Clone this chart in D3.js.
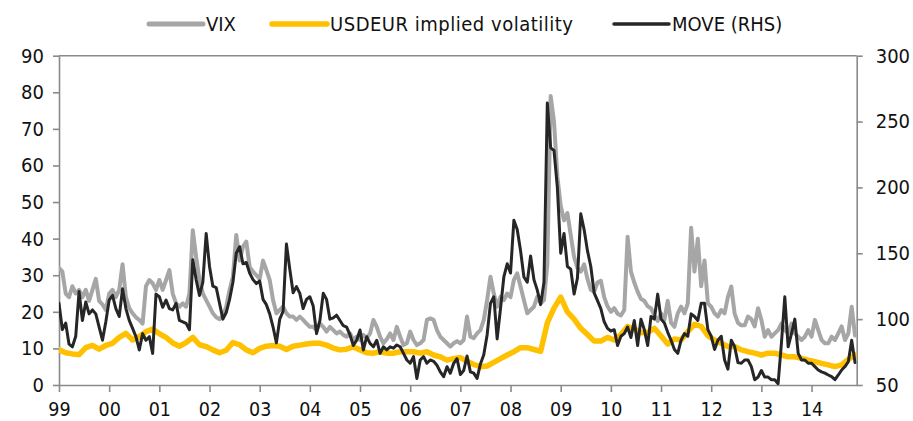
<!DOCTYPE html>
<html><head><meta charset="utf-8">
<script src="https://cdn.jsdelivr.net/npm/d3@7"></script>
<style>
body{margin:0;background:#fff}
svg{display:block}
text{font-family:"DejaVu Sans Condensed","DejaVu Sans",sans-serif;font-stretch:condensed;}
</style>
</head><body>
<svg id="c" width="913" height="421"></svg>
<script>
// ---- data ----
const startYear = 1999;
const endYear = 2014.9;
const stepsPerYear = 15;          // VIX & MOVE sampling (every ~3.5 weeks)
const fxStepsPerYear = 7.5;       // USDEUR sampling
const yearTicks = [1999,2000,2001,2002,2003,2004,2005,2006,2007,2008,2009,2010,2011,2012,2013,2014];
const yearLabels = ["99","00","01","02","03","04","05","06","07","08","09","10","11","12","13","14"];
const leftTicks = [0,10,20,30,40,50,60,70,80,90];
const rightTicks = [50,100,150,200,250,300];
const seriesNames = ["VIX","USDEUR implied volatility","MOVE (RHS)"];

const vix = [
32,31,25,24,27,25,26,24,26,23,
26,29,23,22,20.5,25,26,24,26,33,
24,21,19.6,18.5,17.8,16.8,27,28.7,27.8,26,
28.7,26,28.7,31.4,25,22.3,21.4,22.3,21.4,25,
42.3,35,28.7,25,23.2,21.4,19.6,18.5,18,19,
21.4,26,29.6,41,34,37.8,39.2,32.3,31,30,
29,34,31.4,28.7,23.2,19.6,20.5,21.4,19.6,18.7,
18.7,17.8,18.7,17.8,16.8,15.9,15.9,15,16.8,15.9,
14.6,15.9,15,14.1,14.6,13.7,13.2,14.1,12.3,13.2,
12.3,13.7,12.8,14.1,17.8,15.9,13.2,11.4,12.5,14.1,
12.3,15.9,13.2,10.9,11.4,14.6,12.3,10.9,11.4,12.3,
17.8,18.2,17.8,15,13.2,12.3,11.4,10.5,11.4,12,
11.4,12.3,18.7,13.2,12.8,14.1,15,17.8,23.2,29.6,
25,21.4,24.1,23.2,25,24,28.7,30.5,26.9,23.2,
19.6,20.5,21.4,24.1,22.3,23.2,33,79,72,57,
49,45,47,41,35,32,31,33,29,26,
25.5,28,28.5,24,21.5,20,21,19.5,19,20.5,
40.5,31,28,25.5,23.5,23,21.5,21,19,17.5,
19.6,17.8,23,17,15.9,19.6,21.4,19.6,22.3,43,
31,40,27,34,22.3,21.4,19.6,18.7,20.5,19.6,
24.1,26.9,19.5,17,16.3,16.3,18.7,18,16,21,
17.8,13.2,15,13.2,14.1,15,16.8,15,14.1,16.8,
14.1,13.2,12.3,13.2,15,13.2,17.8,15,12.3,11.4,
11.4,13.2,12.3,14.1,16,12.3,14.1,21.4,13.5
];

const move = [
112,92,97,81,79,87,121,99,113,104,
107,104,94,84,98,114.5,118,108,102,123,
108,99,93,86.7,76.6,89,84,86.7,74,119,
117,109,114.5,108,107,112,99,98,96.8,92,
145,130,118,128,165,140,125,124,112,100,
105,115,128,150,155,142,143,135,130,127,
129,115,111,104,94,82,100,106,157,138,
120,124.7,119.6,108,115,117,110,89,99,119.6,
115,100,101,103,99,95,94,88,80,84,
91.8,76.6,86.7,81.6,79,84,74,79,76.6,79,
78,80.4,79,74,69,66.5,71.5,55,69,71.5,
66.5,69,68,65,60,56.3,63.9,58.9,66.5,70,
58,61,72,60,59,55,66,73,88,112,
117,85,108,132,142,135,175,168,152,132,
128,148,130,122,111,128,264,230,228,200,
150,165,140,138,119,131,180,168,152,140,
120,114,108,98,93,91,92,80,87,89,
94,86,99,80,100,92,80,102,100,119,
100,97,90,84,77,74,84,89,87,104,
102,99,112,112,92,87,77,84,87,69,
62,84,79,67,66.5,69,69,64,54,56,
61,56,56,54,54,51,82,117,79,89,
100,74,69,69,66.5,66.5,64,61.4,60,59,
57.6,56.3,54,57.6,61.4,64,67.7,84,67
];

const usdeur = [
9.6,8.8,8.5,8.3,10.2,10.8,9.8,10.8,11.4,13,
14.1,12.3,13.2,14.6,15.3,14,13,11.5,10.6,11.6,
13,11,10.5,9.6,8.8,9.5,11.6,11,9.6,8.8,
10,10.6,10.8,10.6,9.7,10.6,10.9,11.2,11.4,11.4,
10.9,10.1,9.6,9.8,10.4,9.6,8.8,8.7,9.1,8.7,
8.7,9.1,9.1,9.1,8.7,9.1,8.2,7.7,6.8,7.2,
7.5,6.5,5.6,5,5.2,6.2,7.2,8.2,9.1,10.2,
10.2,9.7,9.2,17,21,24,20,18,15.5,13.8,
12,12,13,12.3,13.8,16,15.3,14.3,14.4,15.5,
13.4,11.2,12.6,12.3,14.6,16.6,16,13.5,12.3,11.4,
10.5,10.5,9.6,9.1,8.7,8.2,8.7,8.7,8.2,7.7,
7.7,7.3,6.8,6.4,5.9,5.5,5,5.5,7,8.2
];

// ---- drawing ----
const W = 913, H = 421;
const L = 59, R = 856.7, T = 55.7, B = 385;
const axisColor = "#8a8a8a";
const fontFam = '"DejaVu Sans Condensed","DejaVu Sans",sans-serif';
const colors = {vix:"#a6a6a6", fx:"#ffc000", move:"#262626"};

const svg = d3.select("#c");
svg.append("rect").attr("width",W).attr("height",H).attr("fill","#fff");

const x = d3.scaleLinear().domain([startYear, endYear]).range([L, R]);
const yL = d3.scaleLinear().domain([0, 90]).range([B, T]);
const yR = d3.scaleLinear().domain([50, 300]).range([B, T]);

function styleAxis(g){
  g.select(".domain").attr("stroke", axisColor).attr("stroke-width", 1.6);
  g.selectAll(".tick line").attr("stroke", axisColor).attr("stroke-width", 1.6);
  g.selectAll(".tick text").attr("fill", "#111").attr("font-size", 20)
    .attr("font-family", fontFam).style("font-stretch","condensed");
}

// top border
svg.append("line").attr("x1", L).attr("x2", R).attr("y1", T).attr("y2", T)
  .attr("stroke", axisColor).attr("stroke-width", 1.6);

const gx = svg.append("g").attr("transform", `translate(0,${B})`)
  .call(d3.axisBottom(x).tickValues(yearTicks).tickFormat((d,i)=>yearLabels[i])
    .tickSize(7).tickSizeOuter(0).tickPadding(10));
styleAxis(gx);
gx.selectAll(".tick text").attr("font-size", 19.5);

const gl = svg.append("g").attr("transform", `translate(${L},0)`)
  .call(d3.axisLeft(yL).tickValues(leftTicks).tickSize(6).tickSizeOuter(0).tickPadding(9));
styleAxis(gl);

const gr = svg.append("g").attr("transform", `translate(${R},0)`)
  .call(d3.axisRight(yR).tickValues(rightTicks).tickSize(6).tickSizeOuter(0).tickPadding(13));
styleAxis(gr);

svg.append("clipPath").attr("id","pc").append("rect")
  .attr("x", L).attr("y", T - 5).attr("width", R - L).attr("height", B - T + 5);

const lineVix = d3.line().x((d,i)=>x(startYear + i/stepsPerYear)).y(d=>yL(d));
const lineFx = d3.line().x((d,i)=>x(startYear + i/fxStepsPerYear)).y(d=>yL(d));
const lineMove = d3.line().x((d,i)=>x(startYear + i/stepsPerYear)).y(d=>yR(d));

const plot = svg.append("g").attr("clip-path","url(#pc)");
plot.append("path").datum(vix).attr("d", lineVix).attr("fill","none")
  .attr("stroke", colors.vix).attr("stroke-width", 4).attr("stroke-linejoin","round").attr("stroke-linecap","round");
plot.append("path").datum(usdeur).attr("d", lineFx).attr("fill","none")
  .attr("stroke", colors.fx).attr("stroke-width", 5.5).attr("stroke-linejoin","round").attr("stroke-linecap","round");
plot.append("path").datum(move).attr("d", lineMove).attr("fill","none")
  .attr("stroke", colors.move).attr("stroke-width", 3).attr("stroke-linejoin","round").attr("stroke-linecap","round");

// legend
const legend = [
  {name: seriesNames[0], color: colors.vix, x1: 149, x2: 203, w: 5, len: null},
  {name: seriesNames[1], color: colors.fx, x1: 272, x2: 327, w: 5.5, len: 243},
  {name: seriesNames[2], color: colors.move, x1: 614, x2: 669, w: 3.5, len: null}
];
const lg = svg.append("g");
legend.forEach(it => {
  lg.append("line").attr("x1", it.x1).attr("x2", it.x2).attr("y1", 24).attr("y2", 24)
    .attr("stroke", it.color).attr("stroke-width", it.w).attr("stroke-linecap","round");
  const t = lg.append("text").attr("x", it.x2 + 3).attr("y", 24).attr("dy","0.36em")
    .attr("font-size", 20).attr("fill","#111").text(it.name);
  if (it.len) t.attr("textLength", it.len).attr("lengthAdjust", "spacing");
});
</script>
</body></html>
